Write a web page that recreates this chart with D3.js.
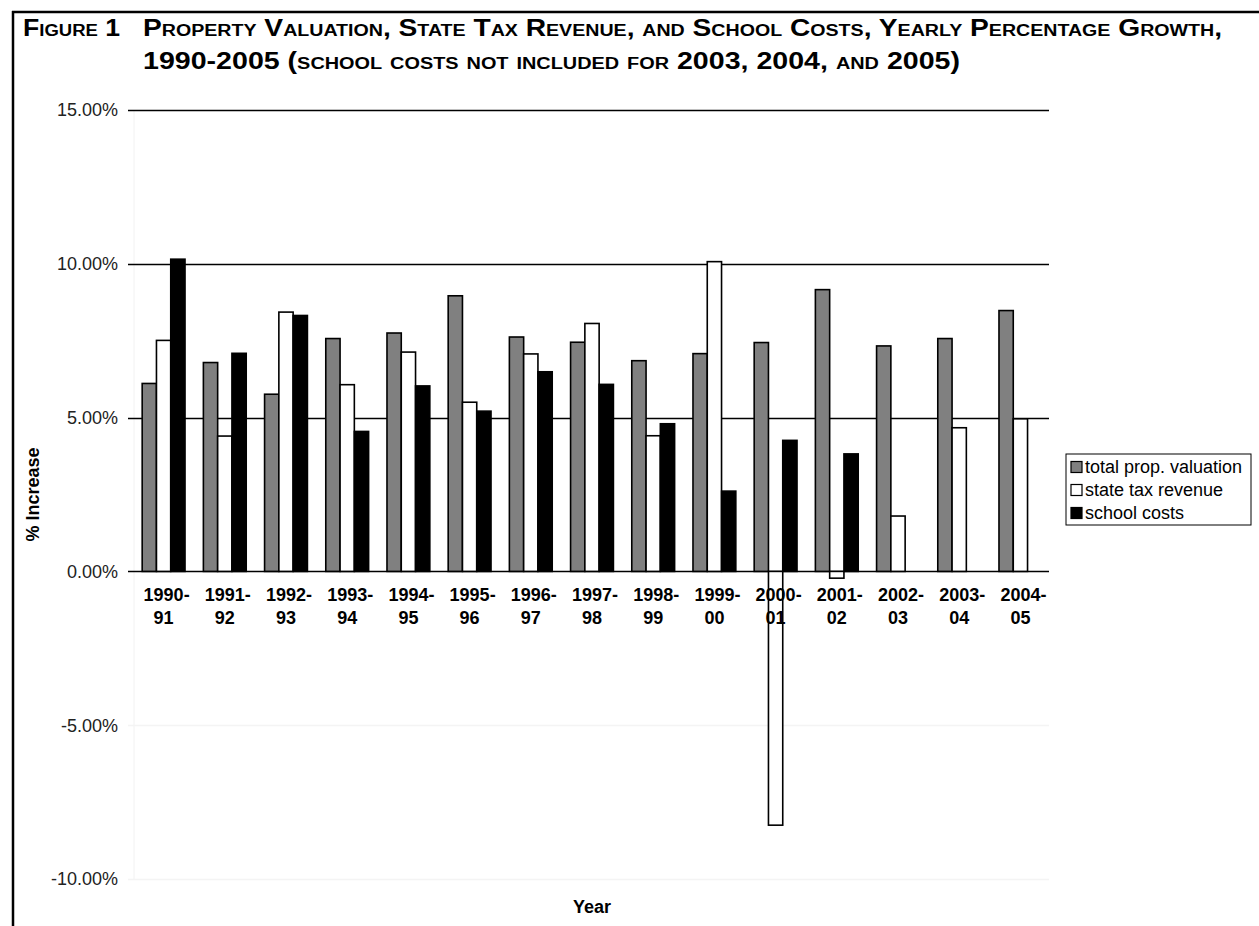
<!DOCTYPE html>
<html>
<head>
<meta charset="utf-8">
<script src="https://cdn.jsdelivr.net/npm/d3@7"></script>
<style>
    body { margin: 0; background: #fff; }
    svg { display: block; font-family: Arial, "Liberation Sans", sans-serif; }
    .title { font-weight: bold; font-size: 23px; font-variant: small-caps; }
    .tick-label { font-size: 18px; }
    .cat-label { font-size: 18px; font-weight: bold; }
    .axis-title { font-size: 18px; font-weight: bold; }
    .legend-label { font-size: 18px; }
</style>
</head>
<body>
<script>
var years = ["1990-91", "1991-92", "1992-93", "1993-94", "1994-95", "1995-96", "1996-97", "1997-98",
             "1998-99", "1999-00", "2000-01", "2001-02", "2002-03", "2003-04", "2004-05"];
var valuation   = [6.11, 6.79, 5.76, 7.57, 7.75, 8.96, 7.62, 7.45, 6.85, 7.08, 7.44, 9.16, 7.33, 7.57, 8.48];
var taxRevenue  = [7.51, 4.40, 8.43, 6.07, 7.13, 5.50, 7.07, 8.06, 4.41, 10.07, -8.25, -0.22, 1.80, 4.67, 4.96];
var schoolCosts = [10.15, 7.09, 8.32, 4.55, 6.03, 5.21, 6.49, 6.08, 4.80, 2.61, 4.26, 3.82, null, null, null];
var seriesNames = ["total prop. valuation", "state tax revenue", "school costs"];
var yTicks = [-10, -5, 0, 5, 10, 15];

var outerWidth = 1259;
var outerHeight = 926;

var plotLeft = 133;
var plotRight = 1051;
var plotTop = 110;
var plotBottom = 879;

var fills = ["#808080", "#ffffff", "#000000"];

var rows = years.map(function(y, i){
    return {
        year: y,
        values: [valuation[i], taxRevenue[i], schoolCosts[i]]
    };
});

var svg = d3.select("body").append("svg")
            .attr("width", outerWidth)
            .attr("height", outerHeight);

// frame
svg.append("line")
    .attr("x1", 12).attr("x2", outerWidth)
    .attr("y1", 12).attr("y2", 12)
    .attr("stroke", "#000").attr("stroke-width", 2.5);
svg.append("line")
    .attr("x1", 13).attr("x2", 13)
    .attr("y1", 11).attr("y2", outerHeight)
    .attr("stroke", "#000").attr("stroke-width", 2.5);

// title (wide face in the original, so stretch to its measured widths)
var titleLines = [
    { text: "Figure 1", x: 23, y: 36, len: 97 },
    { text: "Property Valuation, State Tax Revenue, and School Costs, Yearly Percentage Growth,", x: 143, y: 36, len: 1079 },
    { text: "1990-2005 (school costs not included for 2003, 2004, and 2005)", x: 143, y: 69, len: 817 }
];
svg.selectAll(".title")
    .data(titleLines)
    .enter()
    .append("text")
    .attr("class", "title")
    .attr("x", function(d){ return d.x; })
    .attr("y", function(d){ return d.y; })
    .attr("textLength", function(d){ return d.len; })
    .attr("lengthAdjust", "spacingAndGlyphs")
    .text(function(d){ return d.text; });

var x0 = d3.scaleBand()
        .domain(years)
        .range([plotLeft, plotRight])
        .paddingInner(0.3)
        .paddingOuter(0.15);

var x1 = d3.scaleBand()
        .domain([0, 1, 2])
        .range([0, x0.bandwidth()]);

var y = d3.scaleLinear()
        .domain([-10, 15])
        .range([plotBottom, plotTop]);

// faint plot area edge
svg.append("line")
    .attr("x1", plotLeft + 1).attr("x2", plotLeft + 1)
    .attr("y1", plotTop).attr("y2", plotBottom)
    .attr("stroke", "#f2f2f2");

// gridlines
svg.selectAll(".grid")
    .data(yTicks)
    .enter()
    .append("line")
    .attr("class", "grid")
    .attr("x1", 128)
    .attr("x2", 1049)
    .attr("y1", function(d){ return Math.round(y(d)) + 0.5; })
    .attr("y2", function(d){ return Math.round(y(d)) + 0.5; })
    .attr("stroke", function(d){ return d < 0 ? "#f4f4f4" : "#000"; })
    .attr("stroke-width", 1.3);

svg.selectAll(".tick-label")
    .data(yTicks)
    .enter()
    .append("text")
    .attr("class", "tick-label")
    .attr("x", 118)
    .attr("y", function(d){ return y(d); })
    .attr("dy", "0.35em")
    .attr("text-anchor", "end")
    .attr("fill", "#222")
    .text(function(d){ return d.toFixed(2) + "%"; });

// bars
var groups = svg.selectAll(".year-group")
    .data(rows)
    .enter()
    .append("g")
    .attr("class", "year-group")
    .attr("transform", function(d){ return "translate(" + x0(d.year) + ",0)"; });

groups.selectAll("rect")
    .data(function(d){
        return d.values.map(function(v, i){ return { series: i, value: v }; })
                       .filter(function(p){ return p.value !== null; });
    })
    .enter()
    .append("rect")
    .attr("x", function(d){ return x1(d.series); })
    .attr("width", x1.bandwidth())
    .attr("y", function(d){ return Math.min(y(d.value), y(0)); })
    .attr("height", function(d){ return Math.abs(y(d.value) - y(0)); })
    .attr("fill", function(d){ return fills[d.series]; })
    .attr("stroke", "#000")
    .attr("stroke-width", 1.6);

// category labels
var catLabels = svg.selectAll(".cat-label")
    .data(years)
    .enter()
    .append("text")
    .attr("class", "cat-label")
    .attr("text-anchor", "middle")
    .attr("transform", function(d){ return "translate(" + (x0(d) + x0.bandwidth() / 2) + ",601)"; });
catLabels.append("tspan")
    .attr("x", 3)
    .attr("y", 0)
    .text(function(d){ return d.split("-")[0] + "-"; });
catLabels.append("tspan")
    .attr("x", 0)
    .attr("y", 23)
    .text(function(d){ return d.split("-")[1]; });

// axis titles
svg.append("text")
    .attr("class", "axis-title")
    .attr("text-anchor", "middle")
    .attr("transform", "translate(39," + ((plotTop + plotBottom) / 2) + ") rotate(-90)")
    .text("% Increase");
svg.append("text")
    .attr("class", "axis-title")
    .attr("text-anchor", "middle")
    .attr("x", (plotLeft + plotRight) / 2)
    .attr("y", 913)
    .text("Year");

// legend
var legend = svg.append("g").attr("transform", "translate(1066,454)");
legend.append("rect")
    .attr("width", 185)
    .attr("height", 71)
    .attr("fill", "#fff")
    .attr("stroke", "#000")
    .attr("stroke-width", 1);
var items = legend.selectAll(".legend-item")
    .data(seriesNames)
    .enter()
    .append("g")
    .attr("class", "legend-item")
    .attr("transform", function(d, i){ return "translate(0," + (13 + i * 23) + ")"; });
items.append("rect")
    .attr("x", 5).attr("y", -5.5)
    .attr("width", 11).attr("height", 11)
    .attr("fill", function(d, i){ return fills[i]; })
    .attr("stroke", "#000")
    .attr("stroke-width", 1.2);
items.append("text")
    .attr("class", "legend-label")
    .attr("x", 19)
    .attr("dy", "0.35em")
    .text(function(d){ return d; });
</script>
</body>
</html>
